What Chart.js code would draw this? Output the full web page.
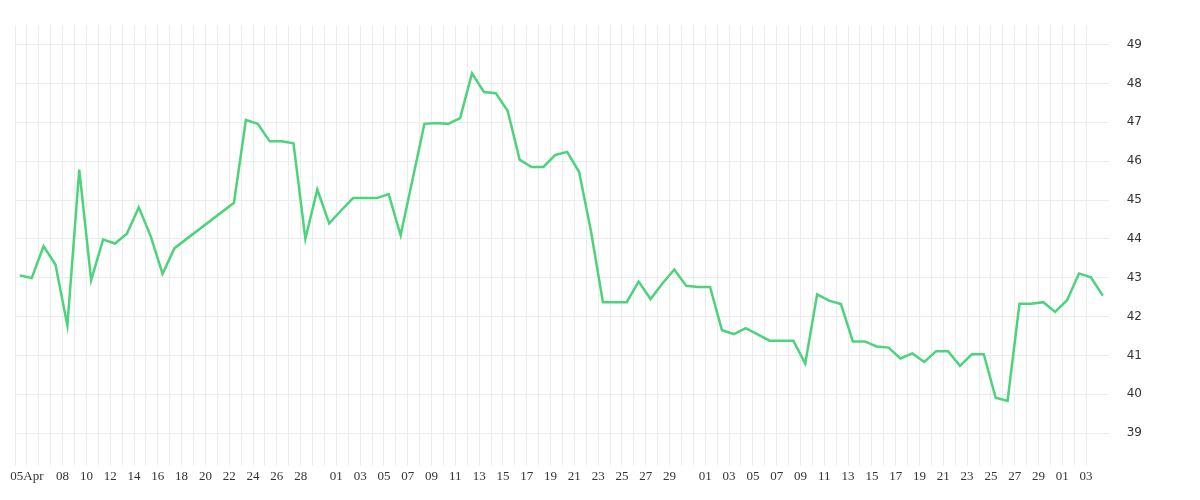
<!DOCTYPE html>
<html>
<head>
<meta charset="utf-8">
<script src="https://cdn.jsdelivr.net/npm/chart.js@4/dist/chart.umd.min.js"></script>
<style>
  html, body { margin: 0; padding: 0; background: #fff; }
  #wrap { width: 1200px; height: 500px; }
</style>
</head>
<body>
<div id="wrap"><canvas id="myChart"></canvas></div>
<script>
// one value per day starting 4 Apr; null = no data that day
var startDate = [2021, 3, 4];
var values = [
  43.06, 42.99, 43.81, 43.34, 41.77, 45.78, 42.94, 43.98, 43.88, 44.13,
  44.81, 44.07, 43.10, 43.76, null, null, null, null, 44.93, 47.06,
  46.96, 46.51, 46.51, 46.46, 44.00, 45.27, 44.40, 44.73, 45.05, 45.05,
  45.05, 45.15, 44.09, 45.52, 46.96, 46.98, 46.96, 47.11, 48.26, 47.78,
  47.75, 47.29, 46.04, 45.85, 45.85, 46.16, 46.24, 45.72, 44.19, 42.37,
  42.37, 42.37, 42.90, 42.45, 42.85, 43.21, 42.79, 42.76, 42.76, 41.65,
  41.55, 41.70, 41.54, 41.38, 41.38, 41.38, 40.79, 42.57, 42.41, 42.32,
  41.36, 41.36, 41.23, 41.20, 40.92, 41.05, 40.83, 41.11, 41.11, 40.73,
  41.03, 41.03, 39.91, 39.83, 42.33, 42.33, 42.37, 42.12, 42.42, 43.11,
  43.01, 42.54
];
var yTicks = [39, 40, 41, 42, 43, 44, 45, 46, 47, 48, 49];

function dayDate(k) {
  return new Date(startDate[0], startDate[1], startDate[2] + k);
}
function tickLabel(k) {
  var d = dayDate(k), day = d.getDate(), m = d.getMonth();
  var dd = (day < 10 ? '0' : '') + day;
  if (m === 3) {
    if (day === 5) return dd + 'Apr';
    return (day >= 8 && day <= 28 && day % 2 === 0) ? dd : '';
  }
  return (day % 2 === 1 && day !== 31) ? dd : '';
}

var points = values.map(function (v, i) { return { x: i + 0.4, y: v }; });

var ctx = document.getElementById('myChart').getContext('2d');
var myChart = new Chart(ctx, {
  type: 'line',
  data: {
    datasets: [{
      data: points,
      borderColor: '#4cd37b',
      borderWidth: 2.5,
      pointRadius: 0,
      tension: 0,
      spanGaps: true,
      fill: false
    }]
  },
  options: {
    responsive: true,
    maintainAspectRatio: false,
    animation: false,
    layout: { padding: { top: 0, left: 15, right: 40, bottom: 13 } },
    plugins: { legend: { display: false }, tooltip: { enabled: false } },
    scales: {
      x: {
        type: 'linear',
        min: 0,
        max: 91.9,
        afterBuildTicks: function (axis) {
          axis.ticks = axis.ticks.filter(function (t) { return Number.isInteger(t.value); });
        },
        ticks: {
          stepSize: 1,
          autoSkip: false,
          maxRotation: 0,
          color: '#333',
          font: { family: 'Liberation Serif', size: 13 },
          callback: function (v) { return tickLabel(v); }
        },
        grid: { color: '#ececec', tickLength: 9 },
        border: { display: false }
      },
      y: {
        position: 'right',
        min: 38.4,
        max: 49.5,
        afterBuildTicks: function (axis) {
          axis.ticks = yTicks.map(function (v) { return { value: v }; });
        },
        ticks: {
          color: '#333',
          padding: 18,
          font: { family: 'DejaVu Sans', size: 12 }
        },
        grid: { color: '#ececec', drawTicks: false },
        border: { display: false }
      }
    }
  }
});
</script>
</body>
</html>
